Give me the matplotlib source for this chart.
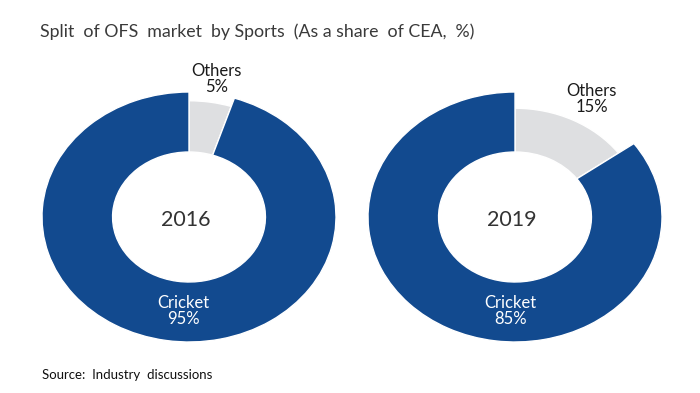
import matplotlib
matplotlib.use("Agg")
import matplotlib.pyplot as plt

years = ["2016", "2019"]
categories = ["Others", "Cricket"]
others_share = [5, 15]
cricket_share = [95, 85]
others_radius = [0.93, 0.87]

title = "Split  of OFS  market  by Sports  (As a share  of CEA,  %)"
source = "Source:  Industry  discussions"

BLUE = "#124a8f"
GREY = "#dedfe1"
FONT = ["Lato", "DejaVu Sans"]

W, H = 700, 393
fig = plt.figure(figsize=(W / 100, H / 100), dpi=100)
fig.patch.set_facecolor("white")

rx, ry = 147, 125
centers = [(189, 217), (515, 217)]
others_lbl_pos = [(0.19, 1.10), (0.52, 0.94)]
cricket_lbl_pos = [(-0.04, -0.755), (-0.03, -0.755)]

for i, year in enumerate(years):
    cx, cy = centers[i]
    aw, ah = 2.5 * rx, 2.5 * ry
    ax = fig.add_axes([(cx - aw / 2) / W, (H - cy - ah / 2) / H, aw / W, ah / H])
    ax.patch.set_visible(False)
    vals = [others_share[i], cricket_share[i]]
    wedges, _ = ax.pie(vals, colors=[GREY, BLUE], startangle=90, counterclock=False,
                       radius=1.0, wedgeprops=dict(width=0.48, edgecolor="white", linewidth=1.0))
    wedges[0].set_radius(others_radius[i])
    wedges[0].set_width(others_radius[i] - 0.52)
    ax.set_aspect("auto")
    ax.set_xlim(-1.25, 1.25)
    ax.set_ylim(-1.25, 1.25)
    ax.axis("off")
    ax.text(-0.02, -0.02, year, ha="center", va="center", fontsize=15.5, color="#333333", family=FONT)
    ox, oy = others_lbl_pos[i]
    ax.text(ox, oy, f"{categories[0]}\n{others_share[i]}%", ha="center", va="center",
            fontsize=12, color="#1a1a1a", family=FONT, linespacing=1.0)
    kx, ky = cricket_lbl_pos[i]
    ax.text(kx, ky, f"{categories[1]}\n{cricket_share[i]}%", ha="center", va="center",
            fontsize=12, color="white", family=FONT, linespacing=1.0)

fig.text(40 / W, 1 - 32 / H, title, ha="left", va="center", fontsize=12.8, color="#3a3a3a", family=FONT)
fig.text(42 / W, 1 - 375 / H, source, ha="left", va="center", fontsize=9.5, color="#111111", family=FONT)

fig.savefig("out.png", dpi=100, facecolor="white")
